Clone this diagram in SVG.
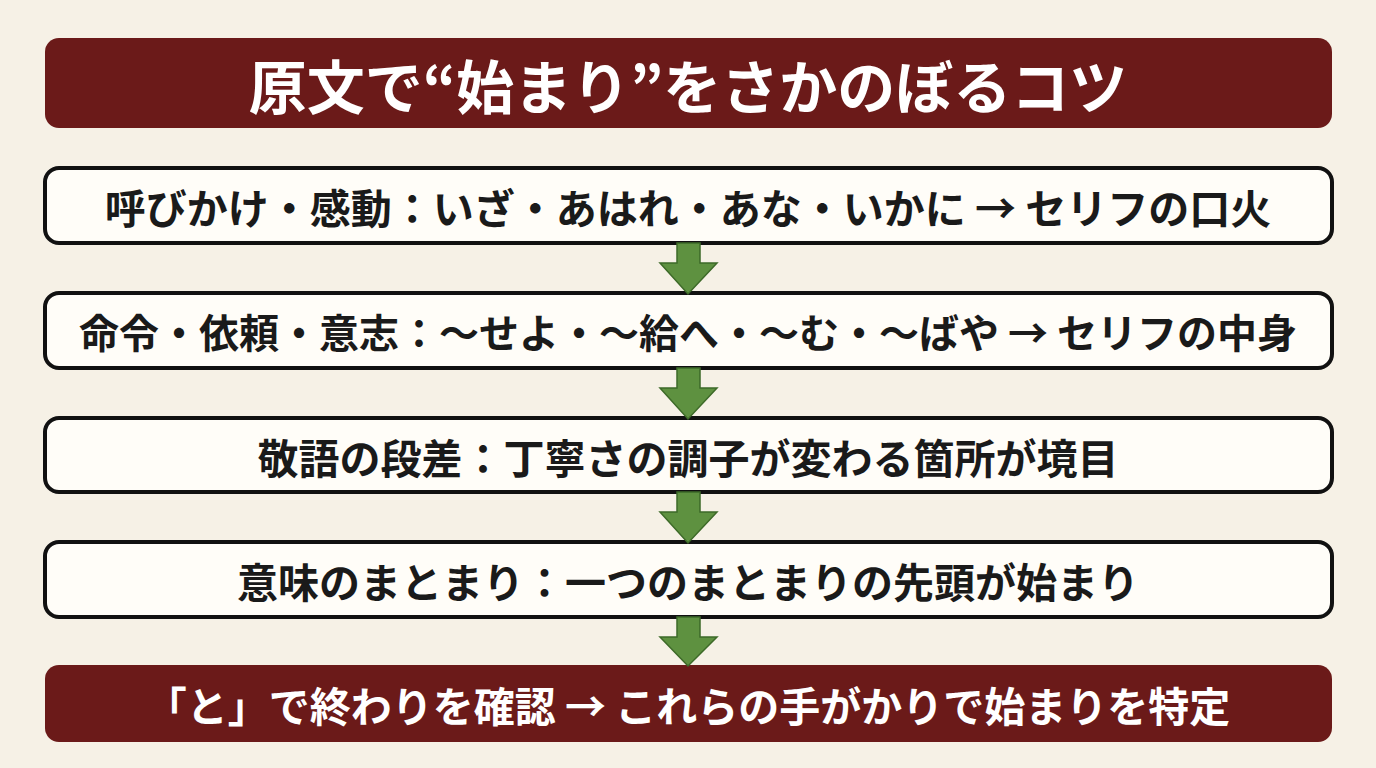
<svg xmlns="http://www.w3.org/2000/svg" width="1376" height="768" viewBox="0 0 1376 768">
<style>
.banner{fill:#6b1a19}
.box{fill:#fffdf8;stroke:#111;stroke-width:4}
.t{font-family:"Noto Sans CJK JP",sans-serif;font-weight:bold;text-anchor:middle;dominant-baseline:central}
.bt{fill:#fff}
.kt{fill:#1a1a1a;font-size:41px}
.arr{fill:#5e9140;stroke:#3d6a28;stroke-width:1.5}
</style>
<rect width="1376" height="768" fill="#f6f1e6"/>
<g id="title"><rect class="banner" x="45" y="38" width="1287" height="90" rx="14"/><text class="t bt" x="688" y="84" font-size="58">原文で“始まり”をさかのぼるコツ</text></g>
<g id="n1"><rect class="box" x="45" y="168" width="1287" height="75" rx="14"/><text class="t kt" x="688" y="206">呼びかけ・感動：いざ・あはれ・あな・いかに → セリフの口火</text></g>
<g id="n2"><rect class="box" x="45" y="293" width="1287" height="75" rx="14"/><text class="t kt" x="688" y="331" style="font-size:40px">命令・依頼・意志：～せよ・～給へ・～む・～ばや → セリフの中身</text></g>
<g id="n3"><rect class="box" x="45" y="418" width="1287" height="74" rx="14"/><text class="t kt" x="688" y="456">敬語の段差：丁寧さの調子が変わる箇所が境目</text></g>
<g id="n4"><rect class="box" x="45" y="542" width="1287" height="75" rx="14"/><text class="t kt" x="688" y="580">意味のまとまり：一つのまとまりの先頭が始まり</text></g>
<g id="n5"><rect class="banner" x="45" y="665" width="1287" height="77" rx="14"/><text class="t bt" x="688" y="704" font-size="41">「と」で終わりを確認 → これらの手がかりで始まりを特定</text></g>
<g id="connectors">
<polygon class="arr" points="677,243 700,243 700,263 717,263 688,294 660,263 677,263"/>
<polygon class="arr" points="677,368 700,368 700,388 717,388 688,419 660,388 677,388"/>
<polygon class="arr" points="677,492 700,492 700,512 717,512 688,543 660,512 677,512"/>
<polygon class="arr" points="677,617 700,617 700,637 717,637 688,666 660,637 677,637"/>
</g>
</svg>
